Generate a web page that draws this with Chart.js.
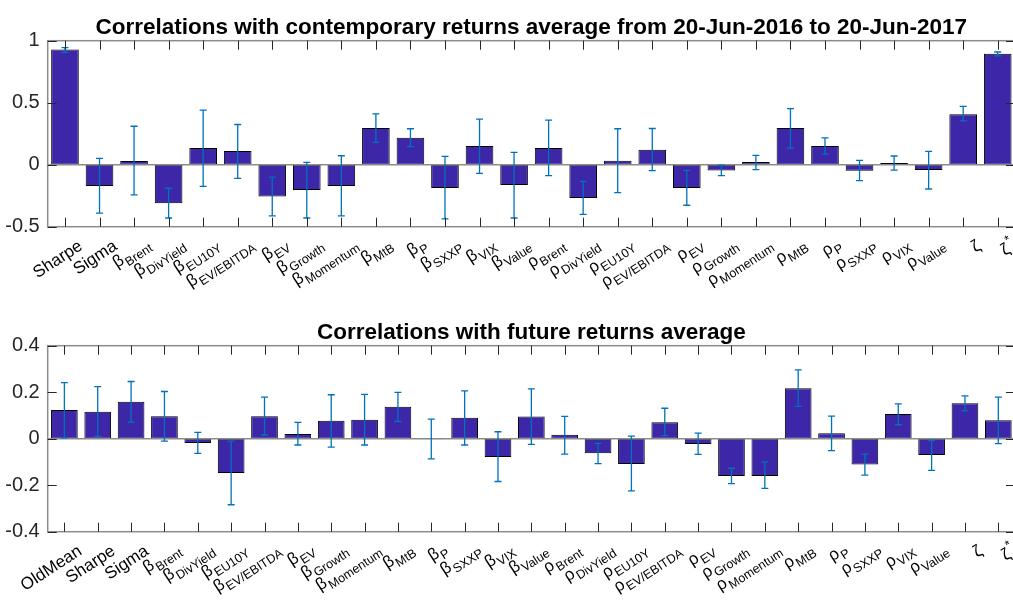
<!DOCTYPE html>
<html>
<head>
<meta charset="utf-8">
<script src="https://cdn.jsdelivr.net/npm/chart.js@4.4.1/dist/chart.umd.min.js"></script>
<style>
  html, body { margin: 0; padding: 0; overflow: hidden; background: #fff; width: 1013px; height: 615px; }
  canvas { position: absolute; left: 0; }
  #topChart { top: 0; }
  #bottomChart { top: 305px; }
</style>
</head>
<body>
<canvas id="topChart" width="1015" height="305"></canvas>
<canvas id="bottomChart" width="1015" height="310"></canvas>
<script>
// categories (tex-like: "_" = subscript, "^" = superscript)
const factorLabels = [
    "Sharpe", "Sigma",
    "β_Brent", "β_DivYield", "β_EU10Y", "β_EV/EBITDA", "β_EV", "β_Growth",
    "β_Momentum", "β_MtB", "β_P", "β_SXXP", "β_VIX", "β_Value",
    "ρ_Brent", "ρ_DivYield", "ρ_EU10Y", "ρ_EV/EBITDA", "ρ_EV", "ρ_Growth",
    "ρ_Momentum", "ρ_MtB", "ρ_P", "ρ_SXXP", "ρ_VIX", "ρ_Value",
    "ζ", "ζ^*",
];
const futureLabels = ["OldMean", ...factorLabels];

// contemporary correlations
const contMean = [0.93, -0.172, 0.03, -0.31, 0.134, 0.11, -0.257, -0.204, -0.172, 0.295, 0.217, -0.188, 0.15, -0.164,
    0.134, -0.268, 0.032, 0.12, -0.188, -0.046, 0.021, 0.295, 0.15, -0.048, 0.013, -0.043, 0.407, 0.895];
const contLow = [0.906, -0.39, -0.244, -0.43, -0.174, -0.11, -0.413, -0.43, -0.413, 0.18, 0.145, -0.437, -0.07, -0.43,
    -0.088, -0.40, -0.225, -0.048, -0.327, -0.088, -0.04, 0.134, 0.086, -0.129, -0.043, -0.196, 0.354, 0.877];
const contHigh = [0.944, 0.051, 0.31, -0.19, 0.44, 0.324, -0.10, 0.019, 0.072, 0.41, 0.29, 0.067, 0.367, 0.10,
    0.36, -0.134, 0.29, 0.292, -0.046, -0.003, 0.075, 0.453, 0.217, 0.035, 0.07, 0.107, 0.47, 0.909];

// future correlations
const futMean = [0.123, 0.116, 0.159, 0.097, -0.019, -0.147, 0.097, 0.02, 0.077, 0.081, 0.137, -0.002, 0.09, -0.079, 0.096,
    0.017, -0.063, -0.109, 0.071, -0.023, -0.16, -0.16, 0.217, 0.023, -0.111, 0.106, -0.07, 0.153, 0.079];
const futLow = [0.004, 0.01, 0.071, -0.01, -0.063, -0.284, 0.016, -0.027, -0.036, -0.027, 0.074, -0.087, -0.027, -0.184, -0.024,
    -0.066, -0.107, -0.224, 0.013, -0.067, -0.193, -0.214, 0.139, -0.051, -0.157, 0.06, -0.136, 0.12, -0.021];
const futHigh = [0.241, 0.224, 0.246, 0.203, 0.027, -0.01, 0.179, 0.07, 0.189, 0.191, 0.199, 0.084, 0.206, 0.03, 0.214,
    0.096, -0.02, 0.011, 0.131, 0.024, -0.127, -0.1, 0.296, 0.097, -0.066, 0.15, -0.007, 0.184, 0.179];

const FONT = "'Liberation Sans', Arial, Helvetica, sans-serif";
Chart.defaults.font.family = FONT;

const LABEL_ANGLE = 33 * Math.PI / 180;
const MAIN_FONT = "17px " + FONT;
const SMALL_FONT = "12.5px " + FONT;

// one piece of text, rotated about (px, py) and offset (ox, oy) along the rotated axes
function putText(ctx, str, font, px, py, ox, oy) {
    ctx.font = font;
    const c = Math.cos(-LABEL_ANGLE), s = Math.sin(-LABEL_ANGLE);
    ctx.setTransform(c, s, -s, c, px, py);
    ctx.textBaseline = "middle";
    ctx.textAlign = "left";
    ctx.fillStyle = "#000";
    ctx.fillText(str, ox, oy);
    ctx.setTransform(1, 0, 0, 1, 0, 0);
}

// right end of the label sits at (px, py)
function drawTexLabel(ctx, text, px, py) {
    let main = text, small = "", dy = 0;
    const u = text.indexOf("_"), c = text.indexOf("^");
    if (u >= 0) { main = text.slice(0, u); small = text.slice(u + 1); dy = 6; }
    else if (c >= 0) { main = text.slice(0, c); small = text.slice(c + 1); dy = -7; }
    ctx.font = MAIN_FONT;
    const wMain = ctx.measureText(main).width;
    ctx.font = SMALL_FONT;
    const wSmall = small ? ctx.measureText(small).width + 1 : 0;
    const x0 = -(wMain + wSmall);
    const shift = u >= 0 ? -3 : 0;
    putText(ctx, main, MAIN_FONT, px, py, x0, shift);
    if (small) putText(ctx, small, SMALL_FONT, px, py, x0 + wMain + 1, shift + dy);
}

// title, baseline, error bars, box, inward ticks and tex tick labels
const matlabAxes = {
    id: "matlabAxes",
    afterDatasetsDraw(chart, args, opts) {
        const { ctx, chartArea: a, scales: { x, y } } = chart;
        const ds = chart.data.datasets[0];
        const meta = chart.getDatasetMeta(0);
        ctx.save();

        const y0 = y.getPixelForValue(0);
        ctx.strokeStyle = "#8c8c8c";
        ctx.lineWidth = 1.5;
        ctx.beginPath();
        ctx.moveTo(a.left, y0);
        ctx.lineTo(a.right, y0);
        ctx.stroke();

        ctx.strokeStyle = "#0072bd";
        ctx.lineWidth = 1.3;
        meta.data.forEach((bar, i) => {
            const lo = y.getPixelForValue(ds.errLow[i]);
            const hi = y.getPixelForValue(ds.errHigh[i]);
            ctx.beginPath();
            ctx.moveTo(bar.x, lo); ctx.lineTo(bar.x, hi);
            ctx.moveTo(bar.x - 3.5, lo); ctx.lineTo(bar.x + 3.5, lo);
            ctx.moveTo(bar.x - 3.5, hi); ctx.lineTo(bar.x + 3.5, hi);
            ctx.stroke();
        });

        ctx.strokeStyle = "#8c8c8c";
        ctx.lineWidth = 1.5;
        ctx.strokeRect(a.left, a.top, a.right - a.left, a.bottom - a.top);

        ctx.strokeStyle = "#262626";
        ctx.lineWidth = 1;
        ctx.beginPath();
        x.ticks.forEach((t, i) => {
            const px = Math.round(x.getPixelForTick(i)) + 0.5;
            ctx.moveTo(px, a.top); ctx.lineTo(px, a.top + 9);
            ctx.moveTo(px, a.bottom); ctx.lineTo(px, a.bottom - 9);
        });
        y.ticks.forEach((t, i) => {
            const py = Math.round(y.getPixelForTick(i)) + 0.5;
            ctx.moveTo(a.left, py); ctx.lineTo(a.left + 9, py);
            ctx.moveTo(a.right, py); ctx.lineTo(a.right - 9, py);
        });
        ctx.stroke();

        ctx.fillStyle = "#000";
        ctx.font = "bold " + opts.titleSize + "px " + FONT;
        ctx.textAlign = "center";
        ctx.textBaseline = "alphabetic";
        ctx.fillText(opts.title, (a.left + a.right) / 2, a.top - 7);

        chart.data.labels.forEach((lab, i) => {
            drawTexLabel(ctx, lab, x.getPixelForTick(i) + 16, a.bottom + 18);
        });
        ctx.restore();
    },
};

function makeChart(id, title, titleSize, labels, mean, low, high, yMin, yMax, step, xHeight) {
    return new Chart(document.getElementById(id), {
        type: "bar",
        data: {
            labels: labels,
            datasets: [{
                data: mean,
                errLow: low,
                errHigh: high,
                backgroundColor: "#3e26a8",
                borderColor: "#000",
                borderWidth: 1,
                borderSkipped: false,
                barPercentage: 0.8,
                categoryPercentage: 1,
            }],
        },
        options: {
            responsive: false,
            animation: false,
            devicePixelRatio: 1,
            layout: { padding: { top: 40.7 }, autoPadding: false },
            plugins: {
                legend: { display: false },
                tooltip: { enabled: false },
                title: { display: false },
                matlabAxes: { title: title, titleSize: titleSize },
            },
            scales: {
                x: {
                    grid: { display: false },
                    border: { display: false },
                    ticks: { display: false },
                    afterFit: (s) => { s.height = xHeight; },
                },
                y: {
                    min: yMin,
                    max: yMax,
                    ticks: {
                        stepSize: step,
                        color: "#262626",
                        font: { size: 20 },
                        padding: 8,
                        callback: (v) => String(Number(v.toFixed(2))),
                    },
                    grid: { display: false, drawTicks: false },
                    border: { display: false },
                    afterFit: (s) => { s.width = 47.7; },
                },
            },
        },
        plugins: [matlabAxes],
    });
}

makeChart("topChart", "Correlations with contemporary returns average from 20-Jun-2016 to 20-Jun-2017", 22.5,
    factorLabels, contMean, contLow, contHigh, -0.5, 1, 0.5, 78.3);
makeChart("bottomChart", "Correlations with future returns average", 22.5,
    futureLabels, futMean, futLow, futHigh, -0.4, 0.4, 0.2, 83.3);
</script>
</body>
</html>
